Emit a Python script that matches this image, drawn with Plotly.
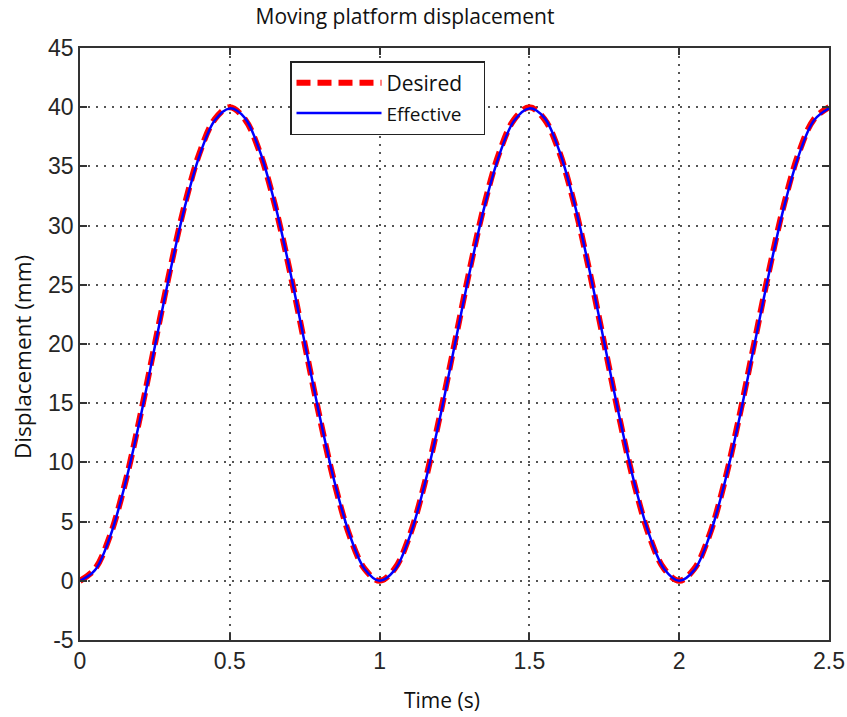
import plotly.graph_objects as go

# Time samples (s)
time_s = [0.00, 0.05, 0.10, 0.15, 0.20, 0.25, 0.30, 0.35, 0.40, 0.45,
          0.50, 0.55, 0.60, 0.65, 0.70, 0.75, 0.80, 0.85, 0.90, 0.95,
          1.00, 1.05, 1.10, 1.15, 1.20, 1.25, 1.30, 1.35, 1.40, 1.45,
          1.50, 1.55, 1.60, 1.65, 1.70, 1.75, 1.80, 1.85, 1.90, 1.95,
          2.00, 2.05, 2.10, 2.15, 2.20, 2.25, 2.30, 2.35, 2.40, 2.45,
          2.50]

# Desired platform displacement (mm)
desired_mm = [0.0, 1.0, 3.8, 8.2, 13.8, 20.0, 26.2, 31.8, 36.2, 39.0,
              40.0, 39.0, 36.2, 31.8, 26.2, 20.0, 13.8, 8.2, 3.8, 1.0,
              0.0, 1.0, 3.8, 8.2, 13.8, 20.0, 26.2, 31.8, 36.2, 39.0,
              40.0, 39.0, 36.2, 31.8, 26.2, 20.0, 13.8, 8.2, 3.8, 1.0,
              0.0, 1.0, 3.8, 8.2, 13.8, 20.0, 26.2, 31.8, 36.2, 39.0,
              40.0]

# Measured (effective) platform displacement (mm)
effective_mm = [0.0, 0.9, 3.7, 8.1, 13.6, 19.8, 26.0, 31.6, 36.0, 38.9,
                39.9, 39.1, 36.3, 31.9, 26.3, 20.1, 13.9, 8.3, 3.9, 1.0,
                0.0, 0.9, 3.7, 8.1, 13.6, 19.8, 26.0, 31.6, 36.0, 38.9,
                39.9, 39.1, 36.3, 31.9, 26.3, 20.1, 13.9, 8.3, 3.9, 1.0,
                0.0, 0.9, 3.7, 8.1, 13.6, 19.8, 26.0, 31.6, 36.0, 38.9,
                39.9]

x_ticks = [0, 0.5, 1, 1.5, 2, 2.5]
x_tick_text = ["0", "0.5", "1", "1.5", "2", "2.5"]
y_ticks = [-5, 0, 5, 10, 15, 20, 25, 30, 35, 40, 45]
y_tick_text = ["-5", "0", "5", "10", "15", "20", "25", "30", "35", "40", "45"]

TICK_FONT = dict(family="Liberation Sans Narrow, Liberation Sans, Arial", size=23, color="#262626")
LABEL_FONT = "Open Sans, Lato, Noto Sans, sans-serif"
PAD = "&nbsp;" * 3

# Plot-area geometry in pixels (used to place the text labels)
W, H = 847, 717
ML, MR, MT, MB = 80, 18, 48, 77
PW, PH = W - ML - MR, H - MT - MB

fig = go.Figure()
fig.add_trace(go.Scatter(
    x=time_s, y=desired_mm, name="Desired" + PAD, mode="lines",
    line=dict(color="#ff0000", width=6, dash="14px,7px", shape="spline"),
))
fig.add_trace(go.Scatter(
    x=time_s, y=effective_mm,
    name="<span style='font-size:19px'>Effective</span>" + PAD, mode="lines",
    line=dict(color="#0000ff", width=2.5, shape="spline"),
))

axis_common = dict(
    showline=True, linecolor="#333333", linewidth=1.5, mirror="ticks",
    ticks="inside", ticklen=7, tickcolor="#333333", tickwidth=1.5,
    showgrid=True, gridcolor="#555555", gridwidth=1.5, griddash="2px,6px",
    zeroline=False, tickfont=TICK_FONT, automargin=False,
)

fig.update_xaxes(range=[0, 2.5], tickvals=x_ticks, ticktext=x_tick_text, **axis_common)
fig.update_yaxes(range=[-5, 45], tickvals=y_ticks, ticktext=y_tick_text, **axis_common)

fig.update_layout(
    width=W, height=H,
    margin=dict(l=ML, r=MR, t=MT, b=MB),
    paper_bgcolor="white", plot_bgcolor="white",
    title=dict(
        text="Moving platform displacement", x=405 / W, xanchor="center",
        y=1 - 17 / H, yanchor="middle",
        font=dict(family=LABEL_FONT, size=21, color="#111111"),
    ),
    legend=dict(
        x=(290 - ML) / PW, y=1 - (61 - MT) / PH, xanchor="left", yanchor="top",
        bgcolor="white", bordercolor="#222222", borderwidth=1.5,
        font=dict(family=LABEL_FONT, size=21, color="#111111"),
        itemwidth=85, tracegroupgap=0,
    ),
    annotations=[
        dict(text="Time (s)", xref="paper", yref="paper",
             x=(442 - ML) / PW, y=-(700 - (MT + PH)) / PH,
             xanchor="center", yanchor="middle", showarrow=False,
             font=dict(family=LABEL_FONT, size=21, color="#111111")),
        dict(text="Displacement (mm)", xref="paper", yref="paper",
             x=(22 - ML) / PW, y=1 - (357 - MT) / PH, textangle=-90,
             xanchor="center", yanchor="middle", showarrow=False,
             font=dict(family=LABEL_FONT, size=22.5, color="#111111")),
    ],
)

fig.write_html("out.html")
